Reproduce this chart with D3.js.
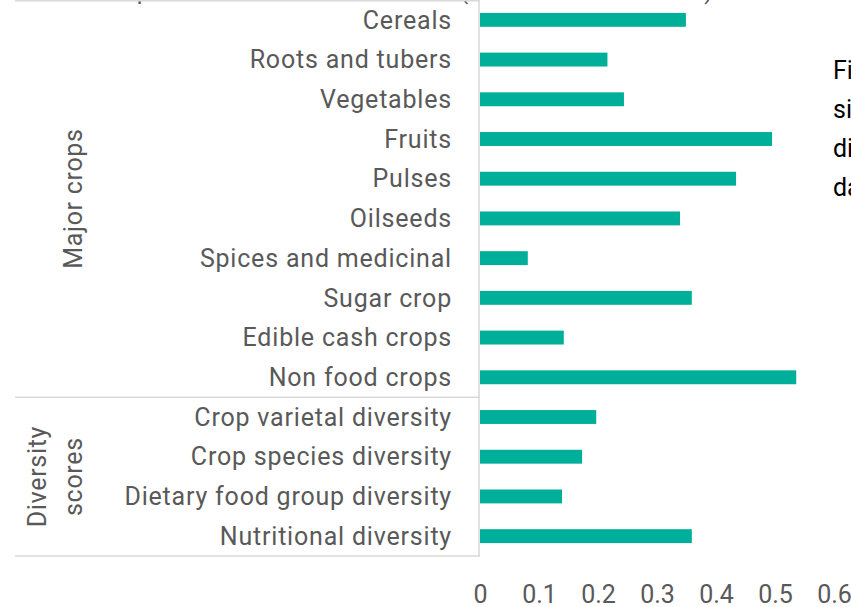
<!DOCTYPE html>
<html>
<head>
<meta charset="utf-8">
<script src="https://cdn.jsdelivr.net/npm/d3@7"></script>
<style>
  html, body { margin: 0; padding: 0; background: #fff; }
  svg { display: block; }
  text { font-family: Roboto, "Noto Sans", sans-serif; }
</style>
</head>
<body>
<svg id="chart" width="851" height="607"></svg>
<script>
// ---- data ----
const categories = [
  "Cereals", "Roots and tubers", "Vegetables", "Fruits", "Pulses", "Oilseeds",
  "Spices and medicinal", "Sugar crop", "Edible cash crops", "Non food crops",
  "Crop varietal diversity", "Crop species diversity",
  "Dietary food group diversity", "Nutritional diversity"
];
const values = [0.349, 0.216, 0.244, 0.495, 0.434, 0.339, 0.081, 0.359, 0.142, 0.536,
                0.197, 0.173, 0.139, 0.359];
const groupNames = [["Major crops"], ["Diversity", "scores"]];
const groupSizes = [10, 4];
const xTicks = [0, 0.1, 0.2, 0.3, 0.4, 0.5, 0.6];
const titleParts = ["Importance of the indicators", "(mean decrease in Gini)"];
const sideText = ["Figure", "similar", "diversity", "data"];

// ---- layout ----
const svg = d3.select("#chart");
const gray = "#595959";
const lineColor = "#d9d9d9";
const barColor = "#00AF9A";
const plotLeft = 480, plotTop = 0, plotBottom = 556, lineLeft = 15;

const x = d3.scaleLinear().domain([0, 0.6]).range([plotLeft, 834]);
const y = d3.scaleBand().domain(categories).range([plotTop, plotBottom])
  .paddingInner(0.65).paddingOuter(0.325);

// clipped title at top (only descenders visible, as in the reference)
svg.append("text")
  .attr("x", 108).attr("y", -1)
  .attr("fill", gray).attr("font-size", 25)
  .text(titleParts[0]);
svg.append("text")
  .attr("x", 460).attr("y", -1)
  .attr("fill", gray).attr("font-size", 24)
  .text(titleParts[1]);

// bars
svg.append("g").selectAll("rect").data(categories).join("rect")
  .attr("x", x(0))
  .attr("y", d => y(d))
  .attr("width", (d, i) => x(values[i]) - x(0))
  .attr("height", y.bandwidth())
  .attr("fill", barColor);

// category axis frame lines
const step = y.step();
const boundaries = [0];
let acc = 0;
groupSizes.forEach(s => { acc += s; boundaries.push(acc); });
svg.append("g").selectAll("line").data(boundaries).join("line")
  .attr("x1", lineLeft).attr("x2", plotLeft)
  .attr("y1", d => Math.max(0.75, plotTop + d * step))
  .attr("y2", d => Math.max(0.75, plotTop + d * step))
  .attr("stroke", lineColor).attr("stroke-width", 1.5);
svg.append("line")
  .attr("x1", plotLeft - 1).attr("x2", plotLeft - 1)
  .attr("y1", plotTop).attr("y2", plotBottom)
  .attr("stroke", lineColor).attr("stroke-width", 1.5);

// category labels
svg.append("g").selectAll("text").data(categories).join("text")
  .attr("x", 452)
  .attr("y", d => y(d) + y.bandwidth() / 2)
  .attr("dy", "0.35em")
  .attr("text-anchor", "end")
  .attr("fill", gray).attr("font-size", 25)
  .attr("letter-spacing", 0.8)
  .text(d => d);

// group labels (rotated)
const groupBaselines = [[82], [46, 82]];
groupNames.forEach((lines, gi) => {
  const cy = plotTop + (boundaries[gi] + boundaries[gi + 1]) / 2 * step;
  lines.forEach((ln, li) => {
    const bx = groupBaselines[gi][li];
    svg.append("text")
      .attr("transform", `translate(${bx},${cy}) rotate(-90)`)
      .attr("text-anchor", "middle")
      .attr("fill", gray).attr("font-size", 25)
      .attr("letter-spacing", 0.7)
      .text(ln);
  });
});

// x axis tick labels
const xAxis = d3.axisBottom(x).tickValues(xTicks).tickFormat(d3.format("~g"))
  .tickSize(0).tickPadding(0);
const gx = svg.append("g").attr("transform", "translate(0,585)").call(xAxis);
gx.select(".domain").remove();
gx.selectAll("text")
  .attr("fill", gray).attr("font-size", 25)
  .attr("font-family", "Roboto, 'Noto Sans', sans-serif")
  .attr("dy", "0.71em");

// clipped side text at right
svg.append("g").selectAll("text").data(sideText).join("text")
  .attr("x", 833)
  .attr("y", (d, i) => 79 + i * 39)
  .attr("fill", "#000").attr("font-size", 25)
  .text(d => d);
</script>
</body>
</html>
